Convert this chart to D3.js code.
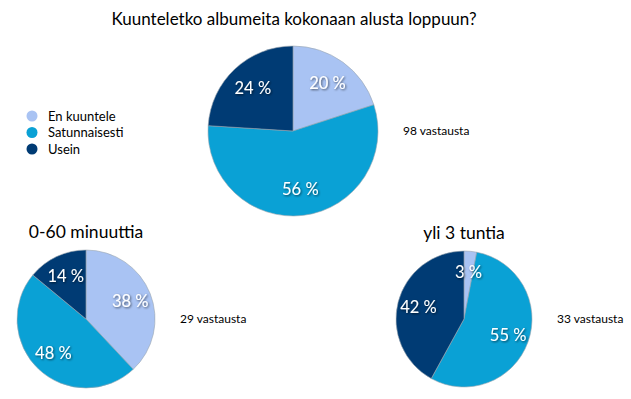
<!DOCTYPE html>
<meta charset="utf-8">
<script src="https://d3js.org/d3.v7.min.js"></script>
<style>
    body { margin: 0; background: #fff; }
    text { font-family: "Lato", "Open Sans", sans-serif; }
</style>
<div id="chart"></div>
<script>
    // categories and colours
    var categories = ["En kuuntele", "Satunnaisesti", "Usein"];
    var colors = ["#a9c3f3", "#0aa1d5", "#003b74"];

    // values (%) per pie
    var allValues = [20, 56, 24];
    var shortValues = [38, 48, 14];
    var longValues = [3, 55, 42];

    var pies = [
        { title: "", values: allValues, answers: "98 vastausta", cx: 293, cy: 131, r: 85 },
        { title: "0-60 minuuttia", values: shortValues, answers: "29 vastausta", cx: 86, cy: 319, r: 69 },
        { title: "yli 3 tuntia", values: longValues, answers: "33 vastausta", cx: 464, cy: 319, r: 68 }
    ];

    var svg = d3.select("#chart")
        .append("svg")
        .attr("width", 631)
        .attr("height", 399);

    var defs = svg.append("defs");
    var f = defs.append("filter").attr("id", "tshadow").attr("x", "-20%").attr("y", "-20%").attr("width", "140%").attr("height", "140%");
    f.append("feDropShadow").attr("dx", 1).attr("dy", 1).attr("stdDeviation", 0.8)
        .attr("flood-color", "#000").attr("flood-opacity", 0.6);

    // title
    svg.append("text")
        .attr("x", 294)
        .attr("y", 25)
        .attr("text-anchor", "middle")
        .style("font-size", "17px")
        .text("Kuunteletko albumeita kokonaan alusta loppuun?");

    var pie = d3.pie().sort(null).value(function (d) { return d; });

    pies.forEach(function (p) {
        var arc = d3.arc().innerRadius(0).outerRadius(p.r);
        var labelArc = d3.arc().innerRadius(p.r * 0.69).outerRadius(p.r * 0.69);
        var g = svg.append("g").attr("transform", "translate(" + p.cx + "," + p.cy + ")");

        g.selectAll("path")
            .data(pie(p.values))
            .enter()
            .append("path")
            .attr("d", arc)
            .attr("fill", function (d, i) { return colors[i]; })
            .attr("stroke", "#9aa6b0")
            .attr("stroke-width", 0.6);

        g.selectAll("text.lbl")
            .data(pie(p.values))
            .enter()
            .append("text")
            .attr("class", "lbl")
            .attr("transform", function (d) { return "translate(" + labelArc.centroid(d) + ")"; })
            .attr("dy", "0.35em")
            .attr("text-anchor", "middle")
            .attr("fill", "#fff")
            .attr("filter", "url(#tshadow)")
            .style("font-size", "16.5px")
            .text(function (d) { return d.data + " %"; });

        if (p.title) {
            svg.append("text")
                .attr("x", p.cx)
                .attr("y", p.cy - p.r - 12)
                .attr("text-anchor", "middle")
                .style("font-size", "17.5px")
                .text(p.title);
        }

        svg.append("text")
            .attr("x", p.cx + p.r + 25)
            .attr("y", p.cy + 4)
            .style("font-size", "12px")
            .text(p.answers);
    });

    // legend
    var legend = svg.append("g").attr("transform", "translate(32,116)");
    categories.forEach(function (c, i) {
        var row = legend.append("g").attr("transform", "translate(0," + (i * 16.5) + ")");
        row.append("circle").attr("r", 5.5).attr("fill", colors[i]);
        row.append("text").attr("x", 16).attr("y", 4.5).style("font-size", "13px").text(c);
    });
</script>
